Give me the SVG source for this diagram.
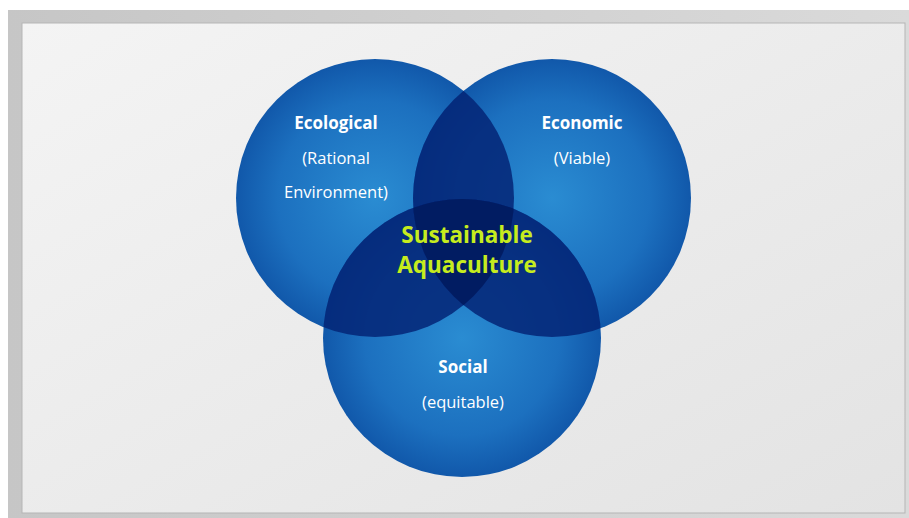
<svg xmlns="http://www.w3.org/2000/svg" width="909" height="518" viewBox="0 0 909 518">
<defs>
<linearGradient id="frame" x1="0" y1="0" x2="1" y2="0">
<stop offset="0" stop-color="#c6c6c6"/><stop offset="1" stop-color="#dadada"/>
</linearGradient>
<linearGradient id="panel" x1="0" y1="0" x2="1" y2="1">
<stop offset="0" stop-color="#f4f4f4"/><stop offset="1" stop-color="#e3e3e3"/>
</linearGradient>
<radialGradient id="blue" cx="0.5" cy="0.5" r="0.5">
<stop offset="0" stop-color="#2a8cd2"/><stop offset="0.7" stop-color="#1c70bf"/><stop offset="1" stop-color="#1158aa"/>
</radialGradient>
<clipPath id="cA"><circle cx="375" cy="198" r="139"/></clipPath>
<clipPath id="cB"><circle cx="552" cy="198" r="139"/></clipPath>
<clipPath id="cC"><circle cx="462" cy="338" r="139"/></clipPath>
<style>
.lab{font-family:"Open Sans","Liberation Sans",sans-serif;fill:#ffffff;text-anchor:middle;font-size:16.5px}
.b{font-weight:bold;font-size:17px}
.core{font-family:"Open Sans","Liberation Sans",sans-serif;fill:#c6ec1e;font-weight:bold;font-size:22.5px;text-anchor:middle}
.ov{fill:#032475;fill-opacity:0.85}
</style>
</defs>
<rect x="8" y="10" width="901" height="508" fill="url(#frame)"/>
<rect x="22" y="23" width="883" height="490" fill="url(#panel)" stroke="#b5b5b5" stroke-width="1"/>
<g id="ecological">
<circle cx="375" cy="198" r="139" fill="url(#blue)"/>
</g>
<g id="economic">
<circle cx="552" cy="198" r="139" fill="url(#blue)"/>
</g>
<g id="social">
<circle cx="462" cy="338" r="139" fill="url(#blue)"/>
</g>
<g id="overlaps">
<g clip-path="url(#cA)"><circle cx="552" cy="198" r="139" class="ov"/></g>
<g clip-path="url(#cA)"><circle cx="462" cy="338" r="139" class="ov"/></g>
<g clip-path="url(#cB)"><circle cx="462" cy="338" r="139" class="ov"/></g>
<g clip-path="url(#cA)"><g clip-path="url(#cB)"><circle cx="462" cy="338" r="139" fill="#000f40" fill-opacity="0.35"/></g></g>
</g>
<g id="labels">
<text class="lab b" x="336" y="129">Ecological</text>
<text class="lab" x="336" y="164">(Rational</text>
<text class="lab" x="336" y="198">Environment)</text>
<text class="lab b" x="582" y="129">Economic</text>
<text class="lab" x="582" y="164">(Viable)</text>
<text class="lab b" x="463" y="373">Social</text>
<text class="lab" x="463" y="408">(equitable)</text>
<text class="core" x="467" y="243">Sustainable</text>
<text class="core" x="467" y="273">Aquaculture</text>
</g>
</svg>
